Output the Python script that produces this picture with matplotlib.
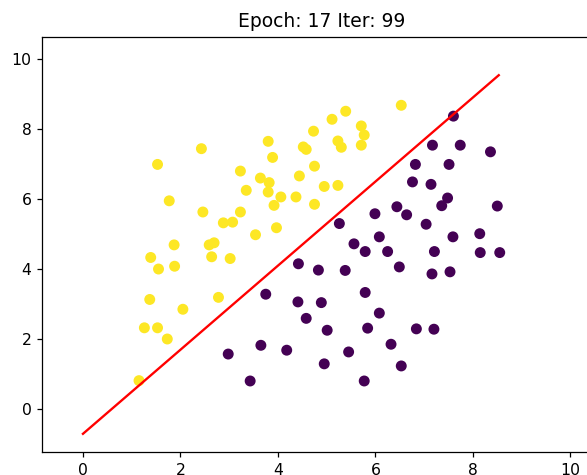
import numpy as np
import matplotlib
matplotlib.use("Agg")
import matplotlib.pyplot as plt

# Class 1 (yellow) points
x_pos = [2.43, 1.53, 3.23, 3.64, 3.35, 1.77, 2.46, 3.23, 2.88, 3.07,
         3.54, 1.87, 2.59, 2.69, 1.39, 2.64, 3.02, 1.55, 1.88, 1.37,
         2.05, 2.78, 1.26, 1.53, 1.73, 1.15, 5.39, 5.11, 4.73, 5.71,
         5.77, 5.71, 3.80, 4.52, 4.58, 5.23, 5.30, 3.89, 6.53, 4.75,
         3.82, 4.44, 3.80, 4.06, 4.37, 4.95, 5.23, 3.92, 4.75, 3.97]
y_pos = [7.45, 7.00, 6.81, 6.61, 6.26, 5.96, 5.64, 5.64, 5.33, 5.35,
         4.99, 4.70, 4.70, 4.76, 4.34, 4.36, 4.31, 4.01, 4.09, 3.14,
         2.86, 3.20, 2.33, 2.33, 2.01, 0.82, 8.52, 8.29, 7.95, 8.10,
         7.84, 7.55, 7.66, 7.50, 7.43, 7.67, 7.49, 7.20, 8.69, 6.95,
         6.48, 6.67, 6.21, 6.07, 6.07, 6.37, 6.40, 5.83, 5.86, 5.19]

# Class 0 (purple) points
x_neg = [8.36, 6.82, 7.51, 6.76, 7.14, 7.48, 7.36, 8.50, 6.44, 6.64,
         5.99, 5.26, 7.04, 6.08, 7.59, 8.14, 5.56, 5.79, 6.25, 7.21,
         8.15, 8.55, 4.42, 4.83, 5.38, 6.49, 7.16, 7.53, 3.75, 5.79,
         4.41, 4.89, 4.58, 5.01, 6.08, 5.84, 6.84, 7.20, 2.98, 3.65,
         4.18, 5.45, 4.95, 6.32, 6.53, 3.43, 5.77, 7.17, 7.74, 7.60]
y_neg = [7.36, 7.00, 7.00, 6.50, 6.43, 6.04, 5.82, 5.81, 5.79, 5.56,
         5.59, 5.31, 5.29, 4.93, 4.93, 5.02, 4.73, 4.51, 4.51, 4.51,
         4.48, 4.48, 4.16, 3.98, 3.97, 4.07, 3.87, 3.93, 3.29, 3.34,
         3.07, 3.05, 2.60, 2.26, 2.75, 2.32, 2.30, 2.29, 1.58, 1.83,
         1.69, 1.64, 1.30, 1.86, 1.24, 0.81, 0.81, 7.55, 7.55, 8.38]

# Decision boundary end points
line_x = [0.0, 8.53]
line_y = [-0.70, 9.55]

epoch = 17
iteration = 99

X = np.array(x_pos + x_neg)
Y = np.array(y_pos + y_neg)
labels = np.array([1] * len(x_pos) + [0] * len(x_neg))

dpi = 112.3
fig = plt.figure(figsize=(587 / dpi, 475 / dpi), dpi=dpi)
ax = fig.add_axes([0.0724, 0.0484, 0.950, 0.8743])

ax.scatter(X, Y, c=labels, cmap="viridis")
ax.plot(line_x, line_y, color="r")
ax.set_title(f"Epoch: {epoch} Iter: {iteration}")

ax.set_xlim(-0.83, 10.61)
ax.set_ylim(-1.22, 10.65)
ax.set_xticks([0, 2, 4, 6, 8, 10])
ax.set_yticks([0, 2, 4, 6, 8, 10])

fig.savefig("out.png", dpi=dpi)
